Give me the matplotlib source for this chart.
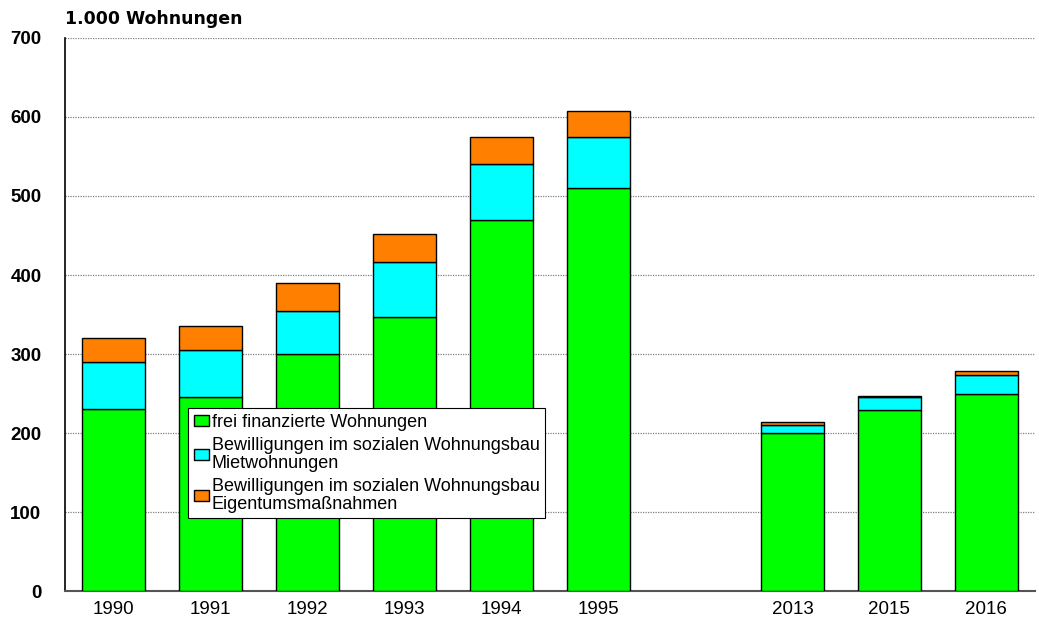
import matplotlib.pyplot as plt
import numpy as np

plt.rcParams['font.family'] = ['Liberation Sans', 'DejaVu Sans']

# Daten (1.000 Wohnungen)
jahre = ["1990", "1991", "1992", "1993", "1994", "1995", "2013", "2015", "2016"]
frei_finanziert = [230, 245, 300, 347, 470, 510, 200, 229, 250]
sozial_miet = [60, 60, 55, 70, 70, 65, 10, 16, 24]
sozial_eigentum = [30, 30, 35, 35, 35, 32, 4, 2, 4]

labels = ["frei finanzierte Wohnungen",
          "Bewilligungen im sozialen Wohnungsbau\nMietwohnungen",
          "Bewilligungen im sozialen Wohnungsbau\nEigentumsmaßnahmen"]
farben = ["#00ff00", "#00ffff", "#ff8000"]

# Positionen: Lücke zwischen 1995 und 2013
pos = np.arange(len(jahre), dtype=float)
pos[6:] += 1

fig = plt.figure(figsize=(10.39, 6.28), dpi=100)
ax = fig.add_axes([0.0626, 0.0589, 0.9334, 0.8806])

breite = 0.65
unten = np.zeros(len(jahre))
for werte, farbe, lab in zip([frei_finanziert, sozial_miet, sozial_eigentum], farben, labels):
    ax.bar(pos, werte, breite, bottom=unten, color=farbe, edgecolor='black',
           linewidth=1.0, label=lab, zorder=3)
    unten += np.array(werte)

ax.set_xlim(-0.5, 9.5)
ax.set_ylim(0, 700)
ax.set_yticks(range(0, 701, 100))
ax.set_xticks(pos)
ax.set_xticklabels(jahre, fontsize=13.5)
for t in ax.get_yticklabels():
    t.set_fontweight('bold')
    t.set_fontsize(13.5)
ax.tick_params(axis='x', length=0, pad=7)
ax.tick_params(axis='y', length=0, pad=17)

ax.grid(axis='y', color='#808080', linestyle=(0, (1, 1)), linewidth=0.9, zorder=0)
ax.spines['top'].set_visible(False)
ax.spines['right'].set_visible(False)
ax.spines['left'].set_linewidth(1.2)
ax.spines['bottom'].set_color('#555555')
ax.spines['bottom'].set_linewidth(1.5)

fig.text(0.0626, 0.970, "1.000 Wohnungen", fontsize=12.5, fontweight='bold',
         family='DejaVu Sans', ha='left', va='center')

leg = ax.legend(loc='lower left', bbox_to_anchor=(0.127, 0.132), fontsize=13,
                frameon=True, fancybox=False, edgecolor='black', framealpha=1,
                handlelength=0.85, handleheight=0.55, handletextpad=0.15,
                borderpad=0.3, labelspacing=0.35, borderaxespad=0)
leg.get_frame().set_linewidth(0.8)
for t in leg.get_texts():
    t.set_linespacing(1.05)
leg.set_zorder(5)

fig.savefig("out.png", dpi=100)
